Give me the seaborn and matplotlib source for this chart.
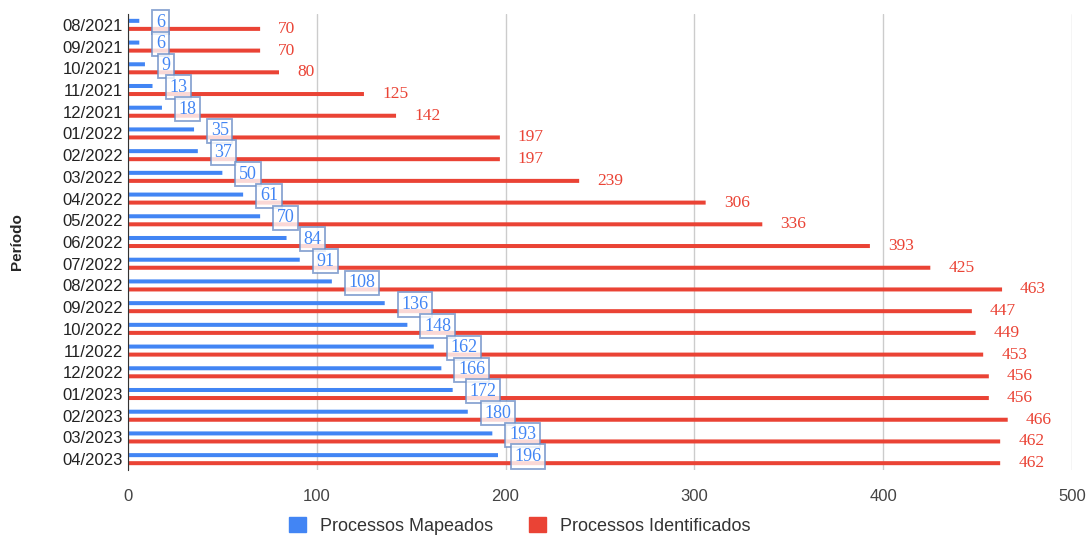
import numpy as np
import pandas as pd
import matplotlib.pyplot as plt
import seaborn as sns

# --- data ---
periodos = ['08/2021', '09/2021', '10/2021', '11/2021', '12/2021',
            '01/2022', '02/2022', '03/2022', '04/2022', '05/2022', '06/2022',
            '07/2022', '08/2022', '09/2022', '10/2022', '11/2022', '12/2022',
            '01/2023', '02/2023', '03/2023', '04/2023']
mapeados = [6, 6, 9, 13, 18, 35, 37, 50, 61, 70, 84, 91, 108, 136, 148,
            162, 166, 172, 180, 193, 196]
identificados = [70, 70, 80, 125, 142, 197, 197, 239, 306, 336, 393, 425,
                 463, 447, 449, 453, 456, 456, 466, 462, 462]
series = ['Processos Mapeados', 'Processos Identificados']
cores = ['#4285F4', '#EA4335']

df = pd.DataFrame({
    'Período': periodos * 2,
    'valor': mapeados + identificados,
    'serie': [series[0]] * len(periodos) + [series[1]] * len(periodos),
})

sns.set_style('white')
plt.rcParams['font.family'] = ['Liberation Sans', 'DejaVu Sans']

fig = plt.figure(figsize=(10.9, 5.39), dpi=100)
ax = fig.add_axes([0.1174, 0.128, 0.866, 0.846])

sns.barplot(data=df, x='valor', y='Período', hue='serie', hue_order=series,
            palette=cores, orient='h', width=0.74, gap=0.5, ax=ax,
            legend=False, saturation=1)
# thin bars: avoid pixel snapping making them uneven
for p in ax.patches:
    p.set_linewidth(0)
    p.set_snap(False)

# data labels
cont_blue, cont_red = ax.containers
for bar, v in zip(cont_blue, mapeados):
    yc = bar.get_y() + bar.get_height() / 2
    ax.annotate(str(v), (v, yc), xytext=(12, -1), textcoords='offset points',
                ha='left', va='center', color='#4285F4', fontsize=13,
                family='Liberation Serif',
                bbox=dict(boxstyle='square,pad=0.2', fc='white', ec='#6d8fc7',
                          alpha=0.8, lw=1.3))
for bar, v in zip(cont_red, identificados):
    yc = bar.get_y() + bar.get_height() / 2
    ax.annotate(str(v), (v, yc), xytext=(13, 0), textcoords='offset points',
                ha='left', va='center', color='#EA4335', fontsize=12.5,
                family='Liberation Serif')

ax.set_xlim(0, 500)
ax.set_xticks([0, 100, 200, 300, 400, 500])
ax.xaxis.grid(True, color='#cccccc', lw=1)
ax.set_axisbelow(True)
for s in ['top', 'right', 'bottom']:
    ax.spines[s].set_visible(False)
ax.spines['left'].set_color('#333333')
ax.tick_params(axis='both', length=0, labelsize=12, colors='#222222')
ax.tick_params(axis='x', pad=14, colors='#444444')
ax.set_xlabel('')
ax.set_ylabel('Período', fontsize=11, fontweight='bold', labelpad=28)

handles = [plt.Rectangle((0, 0), 1, 1, color=c) for c in cores]
fig.legend(handles, series, loc='center', bbox_to_anchor=(0.477, 0.024),
           ncol=2, frameon=False, fontsize=13, handlelength=0.9,
           handleheight=0.9, columnspacing=2.0, handletextpad=0.8,
           labelcolor='#333333')

plt.savefig('out.png', dpi=100)
